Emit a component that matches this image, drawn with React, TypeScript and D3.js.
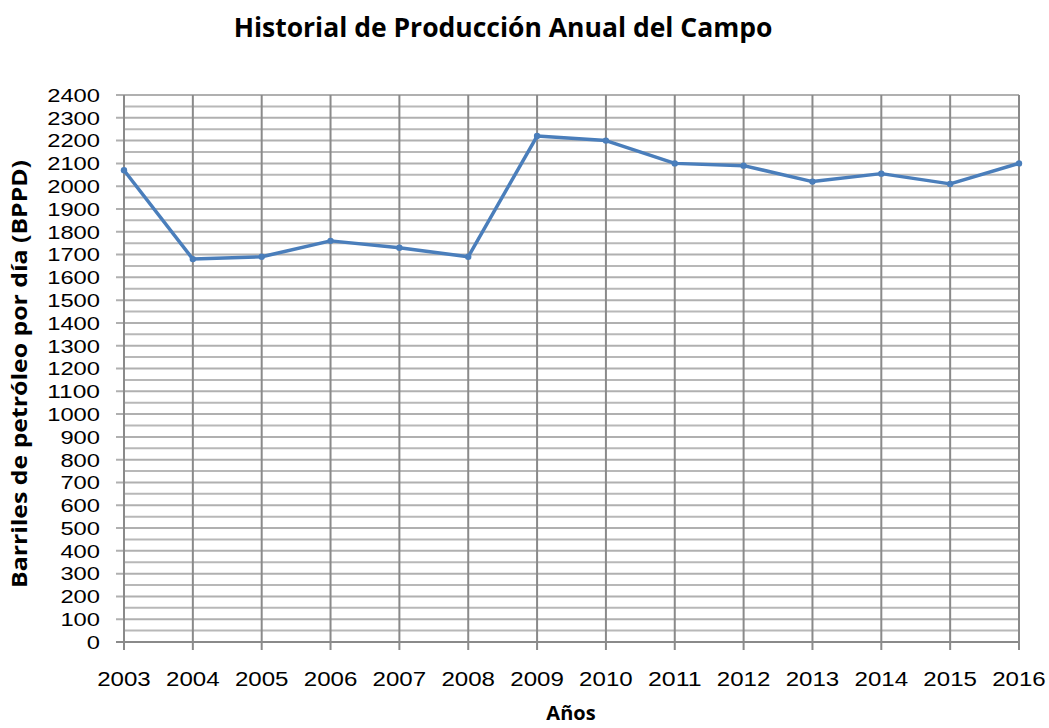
import React from 'react';
import * as d3 from 'd3';

const years = ['2003', '2004', '2005', '2006', '2007', '2008', '2009', '2010', '2011', '2012', '2013', '2014', '2015', '2016'];
const production = [2070, 1680, 1690, 1760, 1730, 1690, 2220, 2200, 2100, 2090, 2020, 2055, 2010, 2100];
const yTicks = d3.range(0, 2401, 100);
const yMinor = d3.range(50, 2400, 100);

const W = 1049;
const H = 728;
const margin = { top: 95, right: 30, bottom: 86, left: 124 };
const font = '"Open Sans", "Liberation Sans", sans-serif';
const tickFont = '"Liberation Sans", Arial, sans-serif';

const App = () => {
  const x = d3.scalePoint().domain(years).range([margin.left, 1019]);
  const y = d3.scaleLinear().domain([0, 2400]).range([642, margin.top]);

  const line = d3.line<number>()
    .x((_, i) => x(years[i]) as number)
    .y(d => y(d));

  return (
    <svg width={W} height={H} style={{ position: 'absolute', left: 0, top: 0, background: '#fff' }}>
      <text x={503} y={37} textAnchor="middle" fontFamily={font} fontWeight="bold" fontSize={26.5} fill="#000">
        Historial de Producción Anual del Campo
      </text>

      {yMinor.map(v => (
        <line key={'m' + v} x1={margin.left} x2={1019} y1={y(v)} y2={y(v)} stroke="#b8b8b8" strokeWidth={2} />
      ))}
      {yTicks.map(v => (
        <line key={'g' + v} x1={116} x2={1019} y1={y(v)} y2={y(v)} stroke="#b0b0b0" strokeWidth={2} />
      ))}
      {years.map(yr => (
        <line key={'v' + yr} x1={x(yr)} x2={x(yr)} y1={margin.top} y2={650} stroke="#8a8a8a" strokeWidth={2} />
      ))}
      <line x1={116} x2={1019} y1={y(0)} y2={y(0)} stroke="#8a8a8a" strokeWidth={2} />

      {yTicks.map(v => (
        <text key={'t' + v} x={100} y={y(v)} dy="0.36em" textAnchor="end" fontFamily={tickFont} fontSize={19}
          textLength={String(v).length * 13.2} lengthAdjust="spacingAndGlyphs" fill="#000">
          {v}
        </text>
      ))}
      {years.map(yr => (
        <text key={'l' + yr} x={x(yr)} y={686} textAnchor="middle" fontFamily={tickFont} fontSize={19.5}
          textLength={yr.length * 13.4} lengthAdjust="spacingAndGlyphs" fill="#000">
          {yr}
        </text>
      ))}

      <path d={line(production) || ''} fill="none" stroke="#4a7ebb" strokeWidth={3.5} strokeLinejoin="round" />
      {production.map((v, i) => (
        <circle key={'c' + i} cx={x(years[i])} cy={y(v)} r={3.2} fill="#4a7ebb" />
      ))}

      <text x={571} y={720} textAnchor="middle" fontFamily={font} fontWeight="bold" fontSize={20} fill="#000">
        Años
      </text>
      <text transform="translate(27, 374) rotate(-90)" textAnchor="middle" fontFamily={font} fontWeight="bold" fontSize={21}
        textLength={428} lengthAdjust="spacingAndGlyphs" fill="#000">
        Barriles de petróleo por día (BPPD)
      </text>
    </svg>
  );
};

export default App;
